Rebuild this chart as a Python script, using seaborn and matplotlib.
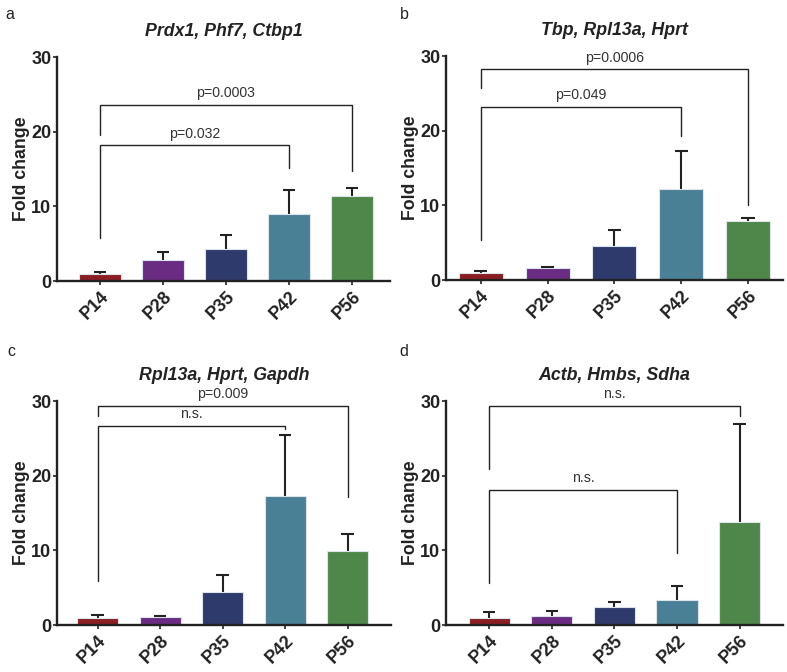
import pandas as pd
import seaborn as sns
import matplotlib.pyplot as plt

sns.set_style("ticks")
plt.rcParams['font.family'] = ['Liberation Sans', 'DejaVu Sans']

# stages
groups = ['P14', 'P28', 'P35', 'P42', 'P56']
colors = ['#8B1E22', '#6A2C82', '#2E3A6C', '#4A8096', '#4F874A']

# mean fold change and top of error bar for each panel
mean_a = [1.0, 2.85, 4.25, 9.0, 11.45]
top_a = [1.2, 3.9, 6.2, 12.2, 12.5]
mean_b = [0.98, 1.65, 4.6, 12.2, 7.85]
top_b = [1.25, 1.8, 6.7, 17.3, 8.25]
mean_c = [0.94, 1.07, 4.47, 17.3, 9.88]
top_c = [1.3, 1.25, 6.66, 25.4, 12.16]
mean_d = [0.94, 1.2, 2.4, 3.35, 13.77]
top_d = [1.7, 1.83, 3.04, 5.27, 26.9]

titles = ['Prdx1, Phf7, Ctbp1', 'Tbp, Rpl13a, Hprt',
          'Rpl13a, Hprt, Gapdh', 'Actb, Hmbs, Sdha']
letters = ['a', 'b', 'c', 'd']

# brackets: (from, to, height, left end, right end, label)
brackets_a = [(0, 4, 23.6, 19.5, 14.8, 'p=0.0003'), (0, 3, 18.2, 5.7, 15.1, 'p=0.032')]
brackets_b = [(0, 4, 28.2, 25.7, 10.0, 'p=0.0006'), (0, 3, 23.2, 5.4, 19.3, 'p=0.049')]
brackets_c = [(0, 4, 29.4, 28.0, 17.1, 'p=0.009'), (0, 3, 26.7, 5.9, 26.3, 'n.s.')]
brackets_d = [(0, 4, 29.4, 20.9, 28.0, 'n.s.'), (0, 3, 18.1, 5.6, 9.7, 'n.s.')]


def draw_panel(ax, means, tops, brackets, title, letter, xlim, letter_xy):
    df = pd.DataFrame({'stage': groups, 'fold': means})
    sns.barplot(data=df, x='stage', y='fold', hue='stage', palette=colors,
                saturation=1, legend=False, width=0.66, edgecolor='#dde3ea',
                linewidth=0.8, ax=ax, zorder=2)

    # one sided error bars (stem + top cap only)
    xs = list(range(len(groups)))
    ax.vlines(xs, means, tops, color='#222222', lw=1.5, zorder=1)
    ax.hlines(tops, [x - 0.1 for x in xs], [x + 0.1 for x in xs],
              color='#222222', lw=1.5, zorder=3)

    for i, j, y, yl, yr, txt in brackets:
        ax.plot([i, i, j, j], [yl, y, y, yr], color='#222222', lw=1.0,
                solid_joinstyle='miter', clip_on=False)
        ax.text((i + j) / 2, y + 0.6, txt, ha='center', va='bottom',
                fontsize=10.2, color='#333333')

    ax.set_ylim(0, 30)
    ax.set_xlim(*xlim)
    ax.set_yticks([0, 10, 20, 30])
    ax.set_xlabel('')
    ax.set_ylabel('Fold change', fontsize=12.8, fontweight='bold',
                  color='#222222', labelpad=1)
    ax.set_title(title, fontsize=12.8, fontweight='bold', style='italic',
                 color='#222222', pad=15)
    sns.despine(ax=ax)
    for s in ['left', 'bottom']:
        ax.spines[s].set_linewidth(1.7)
        ax.spines[s].set_color('#222222')
    ax.tick_params(axis='both', width=1.2, length=3, color='#222222')
    ax.tick_params(axis='y', labelsize=13, pad=1)
    ax.tick_params(axis='x', labelsize=13, pad=2)
    for lab in ax.get_yticklabels():
        lab.set_fontweight('bold')
        lab.set_color('#222222')
    for lab in ax.get_xticklabels():
        lab.set_fontweight('bold')
        lab.set_rotation(45)
        lab.set_ha('right')
        lab.set_rotation_mode('anchor')
        lab.set_color('#222222')
    ax.figure.text(letter_xy[0], letter_xy[1], letter, fontsize=11.5,
                   color='#222222', va='center')


fig = plt.figure(figsize=(7.87, 6.72), dpi=100)
ax_a = fig.add_axes([0.0724, 0.5818, 0.423, 0.3333])
ax_b = fig.add_axes([0.5667, 0.5833, 0.428, 0.3333])
ax_c = fig.add_axes([0.0724, 0.0699, 0.425, 0.3333])
ax_d = fig.add_axes([0.5667, 0.0699, 0.428, 0.3333])

draw_panel(ax_a, mean_a, top_a, brackets_a, titles[0], letters[0], (-0.68, 4.6), (0.007, 0.978))
draw_panel(ax_b, mean_b, top_b, brackets_b, titles[1], letters[1], (-0.52, 4.52), (0.508, 0.978))
draw_panel(ax_c, mean_c, top_c, brackets_c, titles[2], letters[2], (-0.65, 4.7), (0.009, 0.477))
draw_panel(ax_d, mean_d, top_d, brackets_d, titles[3], letters[3], (-0.69, 4.69), (0.508, 0.477))

plt.savefig('out.png', dpi=100)
plt.close()
